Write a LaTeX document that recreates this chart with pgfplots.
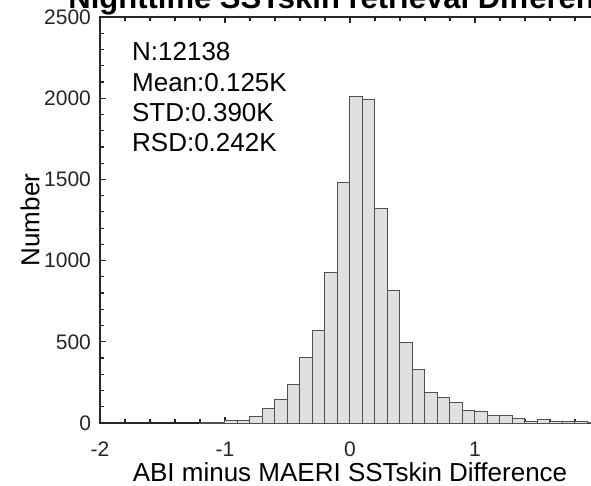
\documentclass[border=0pt]{standalone}
\usepackage{fontspec}
\setmainfont{Liberation Sans}
\usepackage{pgfplots}
\pgfplotsset{compat=1.18}
\definecolor{barfill}{RGB}{224,224,224}
\definecolor{baredge}{RGB}{80,80,80}
\definecolor{axcol}{RGB}{38,38,38}
\begin{document}
\begin{tikzpicture}
\begin{axis}[
  scale only axis, width=250pt, height=203pt,
  xmin=-2, xmax=2, ymin=0, ymax=2500,
  xtick={-2,-1,0,1,2}, xticklabels={-2,-1,0,1,{}}, minor x tick num=4,
  ytick={0,500,1000,1500,2000,2500}, minor y tick num=4,
  tick align=inside,
  major tick length=3pt, minor tick length=2pt,
  axis line style={axcol, line width=0.9pt},
  every tick/.style={axcol, line width=0.6pt},
  /pgf/number format/assume math mode=true,
  /pgf/number format/1000 sep={},
  scaled ticks=false,
  every tick label/.append style={font=\fontsize{10.5}{12}\selectfont, text=axcol},
  xticklabel style={font=\fontsize{10.5}{12}\selectfont, text=axcol, yshift=-6pt},
  yticklabel style={font=\fontsize{10.5}{12}\selectfont, text=axcol, xshift=-1pt},
  xlabel={ABI minus MAERI SSTskin Difference},
  ylabel={Number},
  label style={font=\fontsize{13}{15}\selectfont, text=black},
  xlabel style={at={(axis description cs:0.5,-0.122)}, anchor=center},
  ylabel style={at={(axis description cs:-0.14,0.5)}, anchor=center},
  clip=false,
]
\addplot[ybar interval, fill=barfill, draw=baredge, line width=0.5pt] coordinates {
(-1.2,2) (-1.1,6) (-1.0,15) (-0.9,18) (-0.8,40) (-0.7,92) (-0.6,146)
(-0.5,238) (-0.4,405) (-0.3,567) (-0.2,928) (-0.1,1480) (0.0,2012)
(0.1,1992) (0.2,1321) (0.3,815) (0.4,494) (0.5,327) (0.6,186) (0.7,154)
(0.8,125) (0.9,75) (1.0,68) (1.1,45) (1.2,45) (1.3,26) (1.4,12) (1.5,21)
(1.6,8) (1.7,10) (1.8,8) (1.9,5) (2.0,5)
};
\node[anchor=base west, inner sep=0, font=\fontsize{13}{15}\selectfont] at (axis cs:-1.746,2235) {N:12138};
\node[anchor=base west, inner sep=0, font=\fontsize{13}{15}\selectfont] at (axis cs:-1.746,2040) {Mean:0.125K};
\node[anchor=base west, inner sep=0, font=\fontsize{13}{15}\selectfont] at (axis cs:-1.746,1855) {STD:0.390K};
\node[anchor=base west, inner sep=0, font=\fontsize{13}{15}\selectfont] at (axis cs:-1.746,1671) {RSD:0.242K};
\node[anchor=base west, inner sep=0, font=\bfseries\fontsize{15.5}{18}\selectfont] at (axis cs:-2.256,2555) {Nighttime SSTskin retrieval Difference};
\coordinate (bbsw) at (axis cs:-2.8,-381.8);
\coordinate (bbne) at (axis cs:1.928,2604.7);
\end{axis}
\pgfresetboundingbox
\useasboundingbox (bbsw) rectangle (bbne);
\end{tikzpicture}
\end{document}
